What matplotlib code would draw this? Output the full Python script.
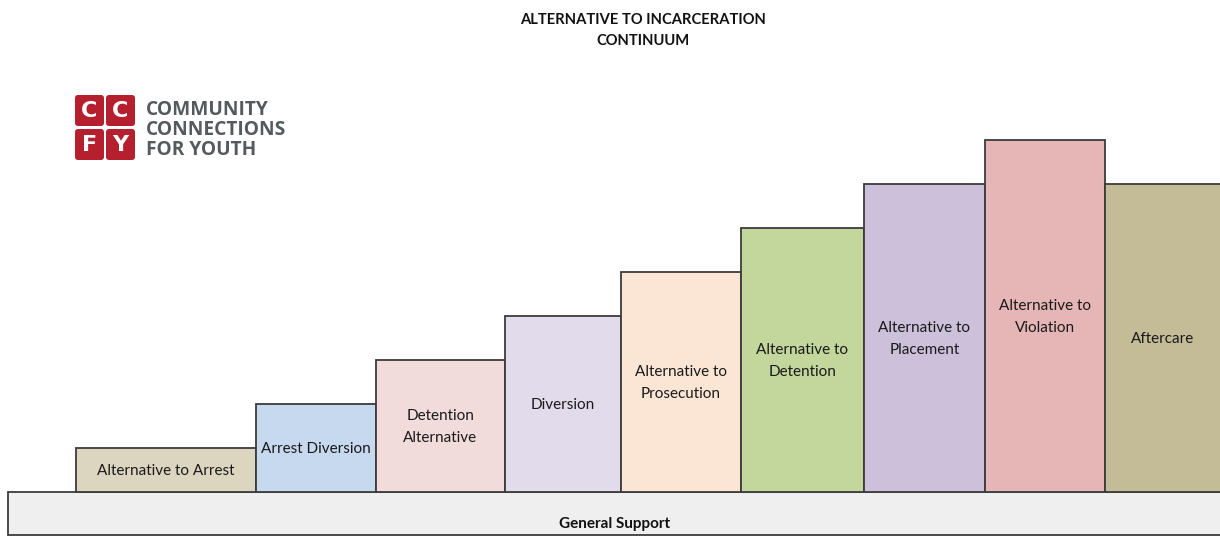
import matplotlib
matplotlib.use("Agg")
import matplotlib.pyplot as plt
from matplotlib.patches import Rectangle, FancyBboxPatch

# ---- data ----
stages = ["Alternative to Arrest", "Arrest Diversion", "Detention\nAlternative",
          "Diversion", "Alternative to\nProsecution", "Alternative to\nDetention",
          "Alternative to\nPlacement", "Alternative to\nViolation", "Aftercare"]
levels = [1, 2, 3, 4, 5, 6, 7, 8, 7]
base_label = "General Support"
title = "ALTERNATIVE TO INCARCERATION\nCONTINUUM"
logo_letters = ["C", "C", "F", "Y"]
logo_text = "COMMUNITY\nCONNECTIONS\nFOR YOUTH"

# ---- layout / style ----
widths = [180, 120, 129, 116, 120, 123, 121, 120, 120]
start_x = 76
colors = ["#dcd6c0", "#c6d9ef", "#f1dbdb", "#e2dbeb", "#fbe6d6",
          "#c3d69c", "#ccc0da", "#e6b6b7", "#c3bc96"]
edge = "#3c3c3c"
FONT = "Lato"

W, H = 1220, 536
fig = plt.figure(figsize=(W / 100, H / 100), dpi=100)
ax = fig.add_axes([0, 0, 1, 1])
STEP = 44.0
BASE_PX = 492
ax.set_xlim(0, W)
ax.set_ylim(-(H - BASE_PX) / STEP, BASE_PX / STEP)
ax.axis("off")

lefts = []
x = start_x
for w in widths:
    lefts.append(x)
    x += w

ax.bar(lefts, levels, width=widths, align="edge", bottom=0,
       color=colors, edgecolor=edge, linewidth=1.3, zorder=3)

for l, w, lv, name in zip(lefts, widths, levels, stages):
    cx = l + min(w, W - l) / 2
    ax.text(cx, lv / 2 - 1.0 / STEP, name, ha="center", va="center", fontsize=11,
            family=FONT, color="#1a1a1a", linespacing=1.78, zorder=5)

# base band
base_bottom = -(H - BASE_PX - 1) / STEP
ax.add_patch(Rectangle((8, base_bottom), W + 20, -base_bottom,
                       facecolor="#efefef", edgecolor=edge, linewidth=1.3, zorder=2))
ax.text(615, -(524 - BASE_PX) / STEP, base_label, ha="center", va="center",
        fontsize=11, fontweight="bold", family=FONT, color="#111111", zorder=5)

# overlay axes in pixel coordinates for title & logo
ov = fig.add_axes([0, 0, 1, 1], facecolor="none")
ov.set_xlim(0, W)
ov.set_ylim(H, 0)
ov.axis("off")
ov.text(643, 30.5, title, ha="center", va="center", fontsize=10.6,
        fontweight="bold", family=FONT, color="#111111", linespacing=1.72)

red = "#b51f2e"
sq = [(75, 95), (106, 95), (75, 129), (106, 129)]
for (sx, sy), letter in zip(sq, logo_letters):
    ov.add_patch(FancyBboxPatch((sx + 1.5, sy + 1.5), 26, 28,
                                boxstyle="round,pad=1.5,rounding_size=3",
                                facecolor=red, edgecolor="none"))
    ov.text(sx + 14.5, sy + 16, letter, ha="center", va="center", fontsize=16,
            fontweight="bold", family="DejaVu Sans", color="white")
ov.text(146, 130, logo_text, ha="left", va="center", fontsize=13.8,
        fontweight="bold", family="Open Sans", color="#555a5c", linespacing=1.02)

fig.savefig("out.png", dpi=100)
